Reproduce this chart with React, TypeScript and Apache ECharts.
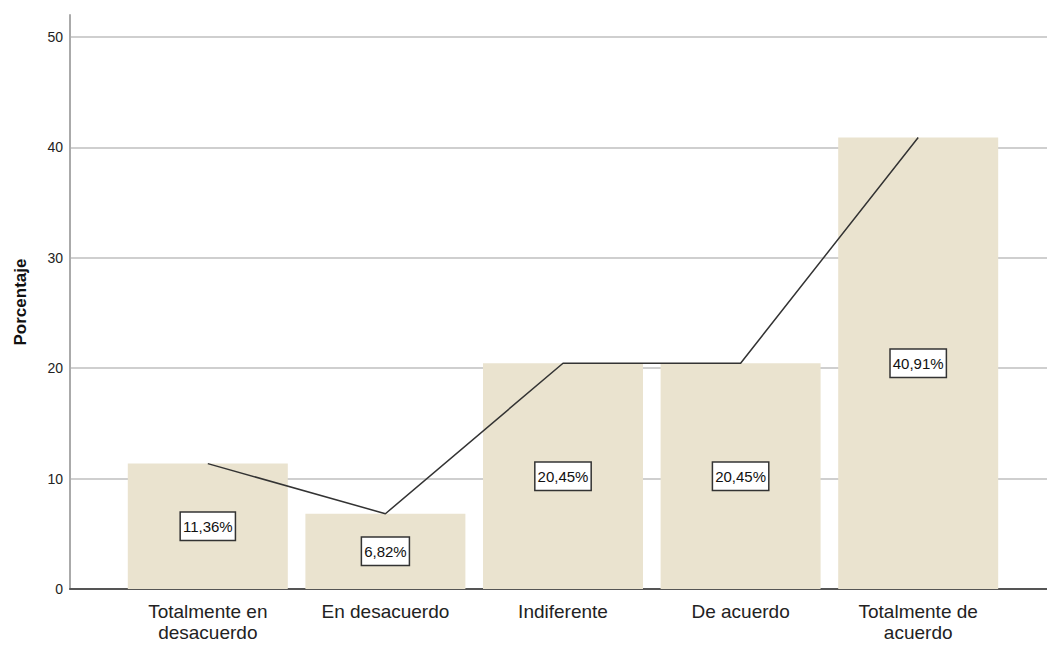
import React, { useEffect, useRef } from "react";
import * as echarts from "echarts";

const categories = [
  "Totalmente en\ndesacuerdo",
  "En desacuerdo",
  "Indiferente",
  "De acuerdo",
  "Totalmente de\nacuerdo",
];
const percentages = [11.36, 6.82, 20.45, 20.45, 40.91];
const yTicks = { min: 0, max: 52, interval: 10 };
const yAxisTitle = "Porcentaje";

const FONT = "'Liberation Sans', Arial, sans-serif";
const fmt = (v: number) => v.toFixed(2).replace(".", ",") + "%";

export default function App() {
  const ref = useRef<HTMLDivElement>(null);
  useEffect(() => {
    document.body.style.margin = "0";
    const chart = echarts.init(ref.current!, null, { renderer: "svg" });
    const top = 15;
    const bottom = 59;
    chart.setOption({
      animation: false,
      backgroundColor: "#ffffff",
      grid: [
        { left: 70, right: 0, top, bottom },
        { left: 119, right: 40, top, bottom },
      ],
      xAxis: [
        {
          gridIndex: 0,
          type: "value",
          min: 0,
          max: 1,
          axisLine: { show: true, lineStyle: { color: "#555", width: 2 } },
          axisTick: { show: false },
          axisLabel: { show: false },
          splitLine: { show: false },
        },
        {
          gridIndex: 1,
          type: "category",
          data: categories,
          axisLine: { show: false },
          axisTick: { show: false },
          axisLabel: {
            color: "#222",
            fontFamily: FONT,
            fontSize: 19,
            lineHeight: 21,
            margin: 12,
            interval: 0,
          },
        },
      ],
      yAxis: [
        {
          gridIndex: 0,
          type: "value",
          min: yTicks.min,
          max: yTicks.max,
          interval: yTicks.interval,
          name: yAxisTitle,
          nameLocation: "middle",
          nameGap: 41,
          nameTextStyle: {
            fontFamily: FONT,
            fontSize: 17,
            fontWeight: "bold",
            color: "#111",
          },
          axisLine: { show: true, lineStyle: { color: "#aaa", width: 2 } },
          axisTick: { show: false },
          axisLabel: {
            color: "#222",
            fontFamily: FONT,
            fontSize: 14,
            margin: 7,
            showMaxLabel: false,
          },
          splitLine: {
            show: true,
            showMaxLine: false,
            lineStyle: { color: "#cfcfcf", width: 2 },
          },
        },
        {
          gridIndex: 1,
          type: "value",
          min: yTicks.min,
          max: yTicks.max,
          show: false,
          splitLine: { show: false },
        },
      ],
      series: [
        {
          type: "bar",
          xAxisIndex: 1,
          yAxisIndex: 1,
          data: percentages,
          barWidth: 160,
          itemStyle: { color: "#EAE3CF" },
          label: {
            show: true,
            position: "inside",
            formatter: (p: any) => fmt(p.value),
            color: "#111",
            fontFamily: FONT,
            fontSize: 15,
            backgroundColor: "#ffffff",
            borderColor: "#333",
            borderWidth: 1.5,
            padding: [7, 2, 5, 2],
          },
        },
        {
          type: "line",
          xAxisIndex: 1,
          yAxisIndex: 1,
          data: percentages,
          showSymbol: false,
          symbol: "none",
          lineStyle: { color: "#333", width: 1.5 },
          z: 3,
        },
      ],
    });
    return () => chart.dispose();
  }, []);
  return <div ref={ref} style={{ width: 1047, height: 648 }} />;
}
